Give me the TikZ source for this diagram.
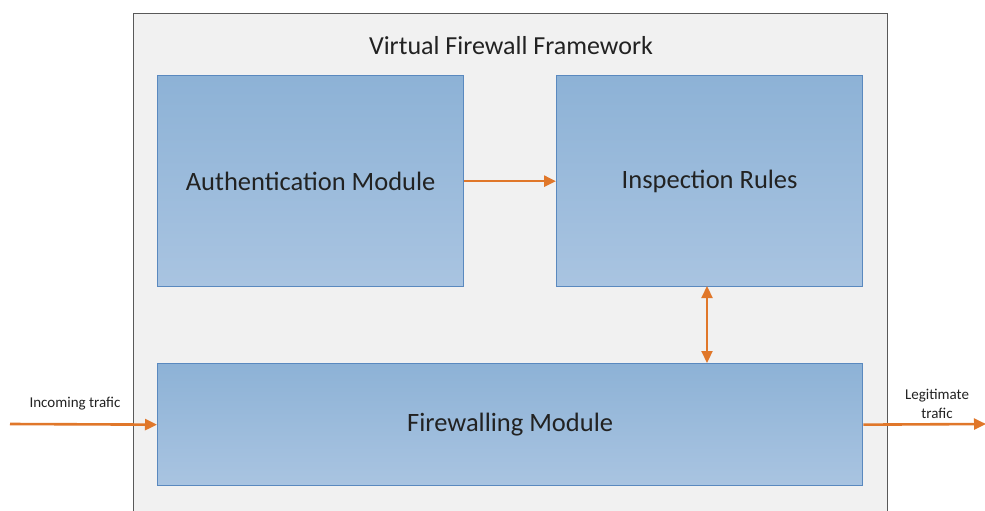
\documentclass[tikz,border=0pt]{standalone}
\usepackage{fontspec}
\setmainfont{Carlito}
\usetikzlibrary{arrows.meta}
\definecolor{boxtop}{HTML}{8DB2D6}
\definecolor{boxbot}{HTML}{A9C4E1}
\definecolor{boxline}{HTML}{5A89BF}
\definecolor{flowcol}{HTML}{E0772A}
\definecolor{framefill}{HTML}{F1F1F1}
\definecolor{framedraw}{HTML}{595959}
\definecolor{txt}{HTML}{222222}

\begin{document}
\begin{tikzpicture}[x=1pt, y=-1pt,
  module/.style={draw=boxline, line width=1.3pt, top color=boxtop, bottom color=boxbot,
    inner sep=0pt, anchor=north west, text=txt, font=\fontsize{26.5}{30}\selectfont},
  flow/.style={draw=flowcol, line width=2.6pt, -{Triangle[length=12pt,width=11pt]}},
  tag/.style={text=txt, align=center, font=\fontsize{15}{19}\selectfont}]

  \useasboundingbox (0,0) rectangle (985,511);
  \clip (0,0) rectangle (985,511);

  %% framework
  \node (frame) [draw=framedraw, fill=framefill, line width=1.3pt, anchor=north west,
    minimum width=754pt, minimum height=530pt] at (133,13) {};
  \node (title) [text=txt, font=\fontsize{26}{30}\selectfont] at (511,46) {Virtual Firewall Framework};

  %% modules
  \node (auth) [module, minimum width=306pt, minimum height=211pt] at (157,75) {Authentication Module};
  \node (rules) [module, minimum width=306pt, minimum height=211pt] at (556,75) {Inspection Rules};
  \node (fw) [module, minimum width=705pt, minimum height=122pt] at (157,363) {Firewalling Module};

  \coordinate (in) at (10,424);
  \coordinate (out) at (986,424);
  \coordinate (rb) at (707,286);
  \coordinate (ft) at (707,363);

  \draw[flow] (auth) -- (rules); %% auth->rules
  \draw[flow, line width=2.2pt, {Triangle[length=12pt,width=11pt]}-{Triangle[length=12pt,width=11pt]}] (rb) -- (ft); %% rules<->fw
  \draw[flow] (in) -- (fw.west);
  \draw[flow] (fw.east) -- (out);

  \node (intag) [tag] at (75,404) {Incoming trafic};
  \node (outtag) [tag] at (937,404) {Legitimate\\trafic};
\end{tikzpicture}
\end{document}
